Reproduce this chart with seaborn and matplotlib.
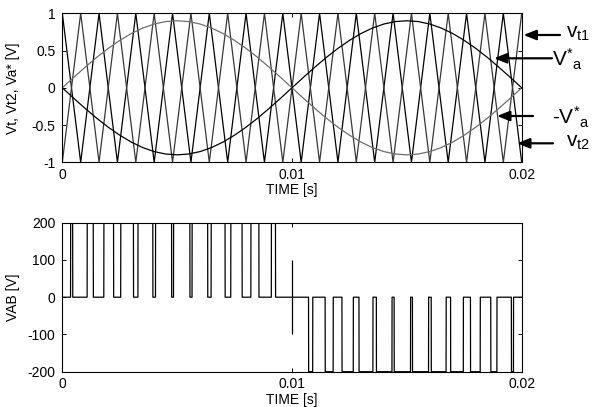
import numpy as np
import pandas as pd
import matplotlib
matplotlib.use("Agg")
import matplotlib.pyplot as plt
import seaborn as sns

# ---------------- data ----------------
# reference sine (Va*), sampled every 0.5 ms over one 20 ms period
ref_time = [0.0000, 0.0005, 0.0010, 0.0015, 0.0020, 0.0025, 0.0030, 0.0035, 0.0040, 0.0045,
            0.0050, 0.0055, 0.0060, 0.0065, 0.0070, 0.0075, 0.0080, 0.0085, 0.0090, 0.0095,
            0.0100, 0.0105, 0.0110, 0.0115, 0.0120, 0.0125, 0.0130, 0.0135, 0.0140, 0.0145,
            0.0150, 0.0155, 0.0160, 0.0165, 0.0170, 0.0175, 0.0180, 0.0185, 0.0190, 0.0195,
            0.0200]
va_ref = [0.000, 0.141, 0.278, 0.409, 0.529, 0.636, 0.728, 0.802, 0.856, 0.889,
          0.900, 0.889, 0.856, 0.802, 0.728, 0.636, 0.529, 0.409, 0.278, 0.141,
          0.000, -0.141, -0.278, -0.409, -0.529, -0.636, -0.728, -0.802, -0.856, -0.889,
          -0.900, -0.889, -0.856, -0.802, -0.728, -0.636, -0.529, -0.409, -0.278, -0.141,
          0.000]
# triangular carrier vertices (vt1); vt2 is its mirror image
carrier_time = [0.0000, 0.0008, 0.0016, 0.0024, 0.0032, 0.0040, 0.0048, 0.0056, 0.0064,
                0.0072, 0.0080, 0.0088, 0.0096, 0.0104, 0.0112, 0.0120, 0.0128, 0.0136,
                0.0144, 0.0152, 0.0160, 0.0168, 0.0176, 0.0184, 0.0192, 0.0200]
vt1_vertices = [1, -1, 1, -1, 1, -1, 1, -1, 1, -1, 1, -1, 1, -1,
                1, -1, 1, -1, 1, -1, 1, -1, 1, -1, 1, -1]
vt2_vertices = [-v for v in vt1_vertices]
dc_voltage = 200            # VAB levels are +/-200 V
spike = (0.01, -100, 100)   # short vertical trace visible at t = 0.01 in VAB

top_xticks = [0, 0.01, 0.02]
top_xticklabels = ["0", "0.01", "0.02"]
top_yticks = [1, 0.5, 0, -0.5, -1]
top_yticklabels = ["1", "0.5", "0", "-0.5", "-1"]
bot_yticks = [200, 100, 0, -100, -200]
bot_yticklabels = ["200", "100", "0", "-100", "-200"]

# ---------------- derived output of the unipolar modulator ----------------
t_fine = np.linspace(0.0, 0.02, 40001)
va_f = np.interp(t_fine, ref_time, va_ref)
vc_f = np.interp(t_fine, carrier_time, vt1_vertices)
vab = dc_voltage * np.sign(va_f) * (np.abs(vc_f) < np.abs(va_f))

df_ref = pd.DataFrame({"t": ref_time, "va": va_ref, "mva": [-v for v in va_ref]})
df_car = pd.DataFrame({"t": carrier_time, "vt1": vt1_vertices, "vt2": vt2_vertices})
df_vab = pd.DataFrame({"t": t_fine, "vab": vab})

# ---------------- style ----------------
sns.set_theme(style="white")
plt.rcParams["font.family"] = ["Liberation Sans", "DejaVu Sans"]
plt.rcParams["mathtext.fontset"] = "custom"
plt.rcParams["mathtext.rm"] = "Liberation Sans"
plt.rcParams["mathtext.it"] = "Liberation Sans:italic"
plt.rcParams["axes.edgecolor"] = "black"
plt.rcParams["axes.linewidth"] = 0.8

W, H = 593, 407
fig = plt.figure(figsize=(W / 100, H / 100), dpi=100)
fig.patch.set_facecolor("white")

def ax_rect(x0, x1, y0, y1):
    return [x0 / W, 1 - y1 / H, (x1 - x0) / W, (y1 - y0) / H]

ax1 = fig.add_axes(ax_rect(62.3, 521.7, 13.3, 162.3))
ax2 = fig.add_axes(ax_rect(62.3, 521.7, 222.7, 371.7))

lw = 0.9
sns.lineplot(data=df_car, x="t", y="vt1", ax=ax1, color="black", lw=lw, estimator=None, sort=False)
sns.lineplot(data=df_car, x="t", y="vt2", ax=ax1, color="#383838", lw=lw, estimator=None, sort=False)
sns.lineplot(data=df_ref, x="t", y="va", ax=ax1, color="#6e6e6e", lw=lw, estimator=None, sort=False)
sns.lineplot(data=df_ref, x="t", y="mva", ax=ax1, color="black", lw=lw, estimator=None, sort=False)

sns.lineplot(data=df_vab, x="t", y="vab", ax=ax2, color="black", lw=lw, estimator=None, sort=False)
ax2.vlines(spike[0], spike[1], spike[2], color="black", lw=lw)

for ax in (ax1, ax2):
    ax.set_xlim(0, 0.02)
    ax.set_xticks(top_xticks)
    ax.set_xticklabels(top_xticklabels)
    ax.tick_params(direction="in", top=True, right=True, bottom=True, left=True,
                   length=3, width=0.7, colors="black", labelsize=10, pad=5)
    ax.tick_params(axis="x", pad=4)
    for s in ax.spines.values():
        s.set_visible(True)
        s.set_color("black")
        s.set_linewidth(0.8)
    ax.set_xlabel("TIME [s]", fontsize=10, labelpad=1, color="black")
    ax.grid(False)

ax1.set_ylim(-1, 1)
ax1.set_yticks(top_yticks)
ax1.set_yticklabels(top_yticklabels)
ax1.set_ylabel("Vt, Vt2, Va* [V]", fontsize=10, color="black")
ax1.yaxis.set_label_coords(-0.092, 0.5)

ax2.set_ylim(-200, 200)
ax2.set_yticks(bot_yticks)
ax2.set_yticklabels(bot_yticklabels)
ax2.set_ylabel("VAB [V]", fontsize=10, color="black")
ax2.yaxis.set_label_coords(-0.092, 0.5)

# ---------------- arrows & labels on the right ----------------
def fp(x, y):
    return (x / W, 1 - y / H)

arrows = [((523.5, 35.0), (560.0, 35.0)),
          ((494.0, 58.3), (552.0, 58.3)),
          ((497.0, 116.0), (533.0, 116.0)),
          ((517.0, 143.3), (553.0, 143.3))]
for head, tail in arrows:
    fig.add_artist(matplotlib.patches.FancyArrowPatch(
        fp(*tail), fp(*head), transform=fig.transFigure,
        arrowstyle="-|>,head_length=0.75,head_width=0.3",
        mutation_scale=10, lw=1.6, color="black", shrinkA=0, shrinkB=0))

labels = [(566.0, 38.0, r"$\mathregular{v_{t1}}$"),
          (552.5, 66.0, r"$\mathregular{V^{*}{}_{a}}$"),
          (551.5, 124.0, r"-$\mathregular{V^{*}{}_{a}}$"),
          (566.0, 147.0, r"$\mathregular{v_{t2}}$")]
for x, y, s in labels:
    fx, fy = fp(x, y)
    fig.text(fx, fy, s, fontsize=15, ha="left", va="baseline", color="black")

fig.savefig("out.png", dpi=100, facecolor="white")
